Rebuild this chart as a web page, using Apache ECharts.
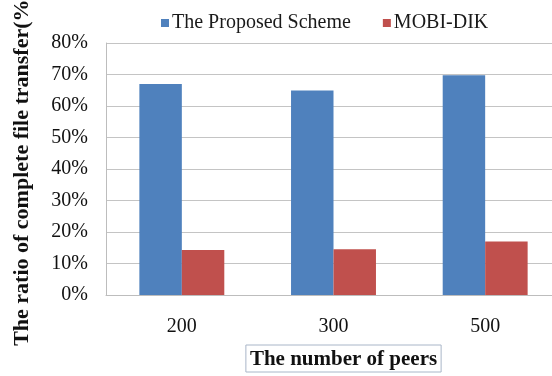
<!DOCTYPE html>
<html>
<head>
<meta charset="utf-8">
<script src="https://cdn.jsdelivr.net/npm/echarts@6/dist/echarts.min.js"></script>
<style>
  html, body { margin: 0; padding: 0; background: #fff; }
  #chart { width: 552px; height: 376px; }
</style>
</head>
<body>
<div id="chart"></div>
<script>
// Number of peers on the x axis
const categories = ['200', '300', '500'];
// Ratio of complete file transfer (%)
const proposedScheme = [67.0, 64.9, 69.8];
const mobiDik = [14.3, 14.5, 17.0];
const seriesNames = ['The Proposed Scheme', 'MOBI-DIK'];

const serif = '"Liberation Serif", "DejaVu Serif", serif';

const chart = echarts.init(document.getElementById('chart'), null, { renderer: 'canvas' });

chart.setOption({
  animation: false,
  backgroundColor: '#ffffff',
  textStyle: { fontFamily: serif },
  legend: {
    top: 8,
    left: 156,
    itemWidth: 8,
    itemHeight: 8,
    itemGap: 32,
    icon: 'rect',
    textStyle: { fontFamily: serif, fontSize: 20, color: '#1a1a1a', padding: [0, 0, 0, -2] },
    data: seriesNames
  },
  grid: {
    left: 106,
    top: 43,
    width: 455,
    height: 252,
    containLabel: false,
    outerBoundsMode: 'none'
  },
  xAxis: {
    type: 'category',
    data: categories,
    name: '{box|The number of peers}',
    nameLocation: 'middle',
    nameGap: 50,
    nameTextStyle: {
      padding: [0, 0, 0, 20],
      align: 'center',
      rich: {
        box: {
          fontFamily: serif,
          fontSize: 21,
          fontWeight: 'bold',
          color: '#111',
          borderColor: '#a9b6c8',
          borderWidth: 1,
          padding: [4, 4, 2, 4]
        }
      }
    },
    axisLine: { show: true, lineStyle: { color: '#bdbdbd', width: 1 } },
    axisTick: { show: false },
    axisLabel: { fontFamily: serif, fontSize: 20, color: '#111', margin: 22 }
  },
  yAxis: {
    type: 'value',
    min: 0,
    max: 80,
    interval: 10,
    name: 'The ratio of complete file transfer(%)',
    nameLocation: 'middle',
    nameGap: 73,
    nameTextStyle: { fontFamily: serif, fontSize: 22, fontWeight: 'bold', color: '#111' },
    axisLine: { show: true, lineStyle: { color: '#bdbdbd', width: 1 } },
    axisTick: { show: false },
    splitLine: { show: true, lineStyle: { color: '#c4c4c4', width: 1 } },
    axisLabel: {
      fontFamily: serif,
      fontSize: 20,
      color: '#111',
      margin: 18,
      formatter: '{value}%'
    }
  },
  series: [
    {
      name: seriesNames[0],
      type: 'bar',
      data: proposedScheme,
      barGap: '0%',
      barCategoryGap: '44%',
      itemStyle: { color: '#4f81bd' }
    },
    {
      name: seriesNames[1],
      type: 'bar',
      data: mobiDik,
      barGap: '0%',
      barCategoryGap: '44%',
      itemStyle: { color: '#c0504d' }
    }
  ]
});
</script>
</body>
</html>
